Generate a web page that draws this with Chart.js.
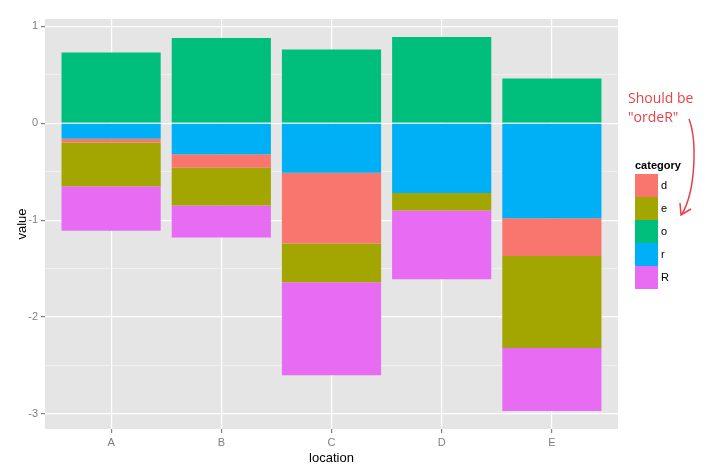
<!DOCTYPE html>
<html>
<head>
<meta charset="utf-8">
<script src="https://cdn.jsdelivr.net/npm/chart.js@4.4.0/dist/chart.umd.min.js"></script>
<style>
  html, body { margin: 0; padding: 0; background: #fff; }
  #wrap { width: 713px; height: 475px; }
</style>
</head>
<body>
<div id="wrap"><canvas id="chart" width="713" height="475"></canvas></div>
<script>
// data
var locations = ['A', 'B', 'C', 'D', 'E'];
var oValues = [0.73, 0.88, 0.76, 0.89, 0.46];
var rValues = [-0.16, -0.32, -0.51, -0.72, -0.98];
var dValues = [-0.04, -0.14, -0.73, 0, -0.39];
var eValues = [-0.45, -0.39, -0.40, -0.18, -0.95];
var RValues = [-0.46, -0.33, -0.96, -0.71, -0.65];
var legendOrder = ['d', 'e', 'o', 'r', 'R'];

var colors = { d: '#F8766D', e: '#A3A500', o: '#00BF7D', r: '#00B0F6', R: '#E76BF3' };

function pts(vals) {
  return vals.map(function (v, i) { return { x: i + 1, y: v }; });
}

// stacking order: first dataset sits next to zero
var series = [
  { key: 'o', vals: oValues },
  { key: 'r', vals: rValues },
  { key: 'd', vals: dValues },
  { key: 'e', vals: eValues },
  { key: 'R', vals: RValues }
];

var panelBg = {
  id: 'panelBg',
  beforeDraw: function (chart) {
    var a = chart.chartArea, ctx = chart.ctx;
    ctx.save();
    ctx.fillStyle = '#E5E5E5';
    ctx.fillRect(a.left, a.top, a.right - a.left, a.bottom - a.top);
    ctx.restore();
  }
};

var legendNote = {
  id: 'legendNote',
  afterDraw: function (chart) {
    var ctx = chart.ctx;
    ctx.save();
    // legend
    ctx.fillStyle = '#000';
    ctx.font = 'bold 11px "Liberation Sans", Arial, sans-serif';
    ctx.textBaseline = 'middle';
    ctx.textAlign = 'left';
    ctx.fillText('category', 635, 166);
    ctx.font = '11px "Liberation Sans", Arial, sans-serif';
    legendOrder.forEach(function (k, i) {
      var y = 174 + i * 23;
      ctx.fillStyle = colors[k];
      ctx.fillRect(635, y, 23, 23);
      ctx.fillStyle = '#000';
      ctx.fillText(k, 661, y + 12);
    });
    // note
    ctx.fillStyle = '#E8404A';
    ctx.font = '14px "Open Sans", sans-serif';
    ctx.fillText('Should be', 628, 99);
    ctx.fillText('"ordeR"', 628, 118);
    ctx.strokeStyle = '#E8404A';
    ctx.lineWidth = 1.5;
    ctx.beginPath();
    ctx.moveTo(689, 119);
    ctx.bezierCurveTo(697, 140, 696, 190, 682, 214);
    ctx.stroke();
    ctx.beginPath();
    ctx.moveTo(680, 203);
    ctx.lineTo(681, 215);
    ctx.lineTo(691, 209);
    ctx.stroke();
    ctx.restore();
  }
};

new Chart(document.getElementById('chart'), {
  type: 'bar',
  data: {
    datasets: series.map(function (s) {
      return {
        label: s.key,
        data: pts(s.vals),
        backgroundColor: colors[s.key],
        borderWidth: 0
      };
    })
  },
  options: {
    responsive: false,
    animation: false,
    categoryPercentage: 1,
    barPercentage: 0.9,
    layout: { padding: { top: 19, right: 95, left: 0, bottom: 0 } },
    plugins: { legend: { display: false }, tooltip: { enabled: false } },
    scales: {
      x: {
        type: 'linear',
        stacked: true,
        offset: false,
        min: 0.4,
        max: 5.6,
        afterFit: function (s) { s.height = 46; },
        border: { display: false },
        grid: { offset: false, color: '#FFFFFF', lineWidth: 1.2, tickColor: '#7F7F7F', tickLength: 4 },
        ticks: {
          stepSize: 1,
          includeBounds: false,
          autoSkip: false,
          maxRotation: 0,
          padding: 3,
          color: '#7F7F7F',
          font: { family: '"Liberation Sans", Arial, sans-serif', size: 11 },
          callback: function (v) { return Number.isInteger(v) ? locations[v - 1] : ''; }
        },
        title: {
          display: true,
          text: 'location',
          color: '#000',
          padding: { top: 0, bottom: 9 },
          font: { family: '"Liberation Sans", Arial, sans-serif', size: 13 }
        }
      },
      y: {
        stacked: true,
        min: -3.155,
        max: 1.075,
        afterFit: function (s) { s.width = 45; },
        border: { display: false },
        grid: {
          color: function (c) { return Number.isInteger(c.tick.value) ? '#FFFFFF' : '#F2F2F2'; },
          lineWidth: function (c) { return Number.isInteger(c.tick.value) ? 1.2 : 0.8; },
          tickColor: function (c) { return Number.isInteger(c.tick.value) ? '#7F7F7F' : 'rgba(0,0,0,0)'; },
          tickLength: 4
        },
        ticks: {
          stepSize: 0.5,
          includeBounds: false,
          padding: 3,
          color: '#7F7F7F',
          font: { family: '"Liberation Sans", Arial, sans-serif', size: 11 },
          callback: function (v) { return Number.isInteger(v) ? String(v) : ''; }
        },
        title: {
          display: true,
          text: 'value',
          color: '#000',
          padding: { top: 15, bottom: 0 },
          font: { family: '"Liberation Sans", Arial, sans-serif', size: 13 }
        }
      }
    }
  },
  plugins: [panelBg, legendNote]
});
</script>
</body>
</html>
